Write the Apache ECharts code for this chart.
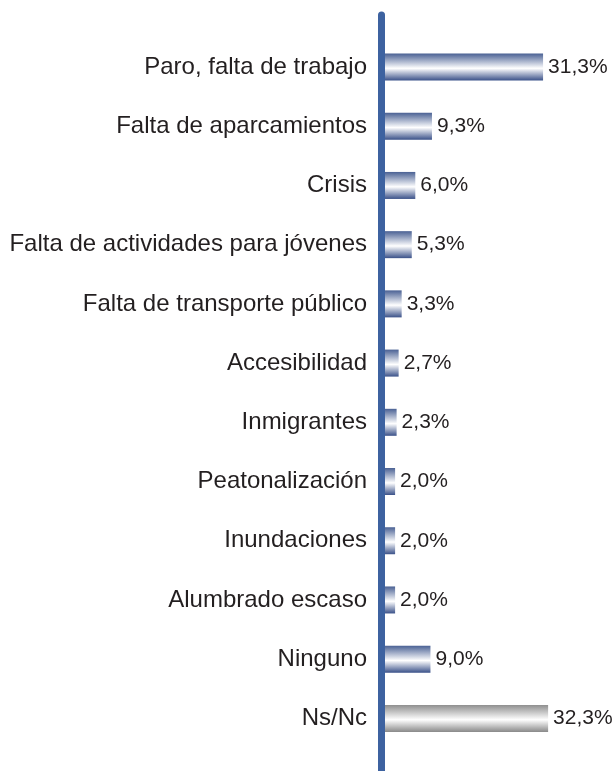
<!DOCTYPE html>
<html>
<head>
<meta charset="utf-8">
<title>Problemas</title>
<script src="https://cdn.jsdelivr.net/npm/echarts@6/dist/echarts.min.js"></script>
<style>
  html, body { margin: 0; padding: 0; background: #fff; }
  #chart { width: 616px; height: 771px; }
</style>
</head>
<body>
<div id="chart"></div>
<script>
// datos
const categories = [
  'Paro, falta de trabajo',
  'Falta de aparcamientos',
  'Crisis',
  'Falta de actividades para jóvenes',
  'Falta de transporte público',
  'Accesibilidad',
  'Inmigrantes',
  'Peatonalización',
  'Inundaciones',
  'Alumbrado escaso',
  'Ninguno',
  'Ns/Nc'
];
const values = [31.3, 9.3, 6.0, 5.3, 3.3, 2.7, 2.3, 2.0, 2.0, 2.0, 9.0, 32.3];
const greyCategories = ['Ns/Nc'];

const blueBar = new echarts.graphic.LinearGradient(0, 0, 0, 1, [
  { offset: 0, color: '#4a6194' },
  { offset: 0.55, color: '#ffffff' },
  { offset: 1, color: '#3a5189' }
]);
const greyBar = new echarts.graphic.LinearGradient(0, 0, 0, 1, [
  { offset: 0, color: '#8e8e8e' },
  { offset: 0.55, color: '#ffffff' },
  { offset: 1, color: '#8a8a8a' }
]);

const seriesData = values.map((v, i) => ({
  value: v,
  itemStyle: { color: greyCategories.includes(categories[i]) ? greyBar : blueBar }
}));

const chart = echarts.init(document.getElementById('chart'));

const option = {
  animation: false,
  textStyle: { fontFamily: 'Liberation Sans, Arial, sans-serif' },
  grid: [
    { left: 385, right: 29, top: 37.4, bottom: 23, containLabel: false },
    // solo para la línea vertical del eje
    { left: 381, right: 29, top: 15, bottom: 0, containLabel: false }
  ],
  xAxis: [
    { type: 'value', gridIndex: 0, min: 0, max: 40, show: false },
    { type: 'value', gridIndex: 1, min: 0, max: 40, show: false }
  ],
  yAxis: [
    {
      type: 'category',
      gridIndex: 0,
      data: categories,
      inverse: true,
      axisLine: { show: false },
      axisTick: { show: false },
      axisLabel: {
        color: '#231f20',
        fontSize: 24,
        margin: 18
      }
    },
    {
      type: 'value',
      gridIndex: 1,
      min: 0,
      max: 1,
      z: 10,
      axisLine: { show: true, lineStyle: { color: '#3d62a0', width: 7 } },
      axisTick: { show: false },
      axisLabel: { show: false },
      splitLine: { show: false }
    }
  ],
  series: [
    {
      type: 'bar',
      xAxisIndex: 0,
      yAxisIndex: 0,
      data: seriesData,
      barWidth: 27,
      label: {
        show: true,
        position: 'right',
        distance: 5,
        color: '#231f20',
        fontSize: 21,
        formatter: p => p.value.toFixed(1).replace('.', ',') + '%'
      }
    }
  ]
};

chart.setOption(option);
</script>
</body>
</html>
